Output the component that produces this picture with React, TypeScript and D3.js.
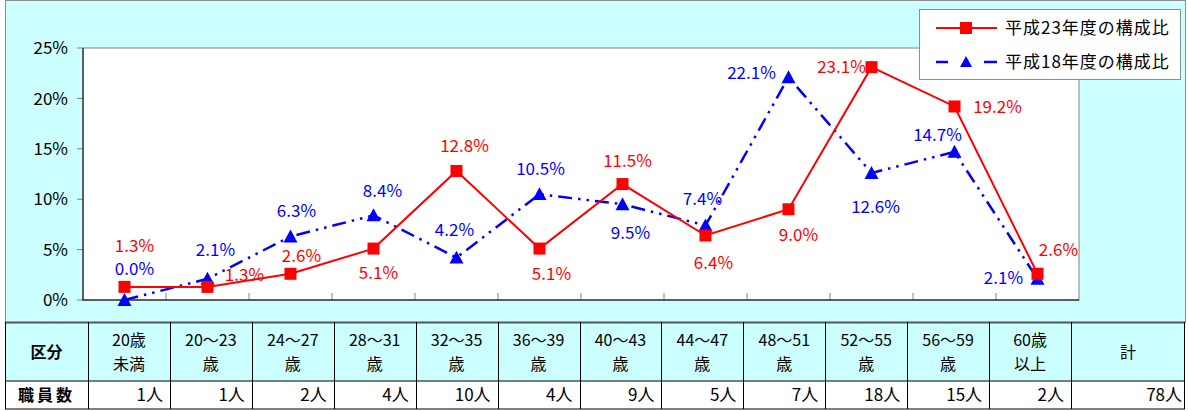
import React from "react";
import * as d3 from "d3";

const categories = ["20歳未満", "20～23歳", "24～27歳", "28～31歳", "32～35歳", "36～39歳", "40～43歳", "44～47歳", "48～51歳", "52～55歳", "56～59歳", "60歳以上"];
const headLine1 = ["20歳", "20～23", "24～27", "28～31", "32～35", "36～39", "40～43", "44～47", "48～51", "52～55", "56～59", "60歳"];
const headLine2 = ["未満", "歳", "歳", "歳", "歳", "歳", "歳", "歳", "歳", "歳", "歳", "以上"];
const h23 = [1.3, 1.3, 2.6, 5.1, 12.8, 5.1, 11.5, 6.4, 9.0, 23.1, 19.2, 2.6];
const h18 = [0.0, 2.1, 6.3, 8.4, 4.2, 10.5, 9.5, 7.4, 22.1, 12.6, 14.7, 2.1];
const staff = [1, 1, 2, 4, 10, 4, 9, 5, 7, 18, 15, 2];
const total = 78;
const yTicks = [0, 5, 10, 15, 20, 25];
const seriesNames = ["平成23年度の構成比", "平成18年度の構成比"];

// label offsets (layout)
const h23LabelOff: [number, number][] = [[10, -41], [37, -12], [11, -18], [5, 24], [8, -25], [12, 25], [5, -23], [8, 27], [10, 26], [-30, 0], [43, 0], [21, -24]];
const h18LabelOff: [number, number][] = [[10, -31], [8, -29], [6, -26], [9, -24], [-2, -28], [1, -25], [8, 29], [-3, -27], [-37, -4], [4, 34], [-17, -17], [-34, -1]];

const W = 1188, H = 411;
const RED = "#FF0000", BLUE = "#0000FF", CYAN = "#CCFFFF";
const FONT = "'Noto Sans CJK JP', 'Noto Sans', sans-serif";

export default function App() {
  const x = d3.scaleBand<string>().domain(categories).range([83, 1079]).paddingInner(0).paddingOuter(0);
  const y = d3.scaleLinear().domain([0, 25]).range([300, 48]);
  const cx = (i: number) => (x(categories[i]) as number) + x.bandwidth() / 2;
  const line = d3.line<number>().x((_, i) => cx(i)).y(d => y(d));

  const colX = d3.scaleLinear().domain([0, 12]).range([88, 1071]);
  const tableLeft = 5, tableRight = 1185, rowTop = 322, rowMid = 381, rowBot = 409;

  const tri = (px: number, py: number, s = 7) => `M${px},${py - s}L${px + s},${py + s * 0.85}L${px - s},${py + s * 0.85}Z`;

  return (
    <svg width={W} height={H} style={{ position: "absolute", left: 0, top: 0, fontFamily: FONT }}>
      <rect x={0} y={0} width={W} height={H} fill="#ffffff" />
      {/* chart area */}
      <rect x={5.5} y={0.5} width={1180} height={322} fill={CYAN} stroke="#8c8c8c" strokeWidth={1} />
      {/* plot area */}
      <rect x={83} y={48} width={996} height={252} fill="#ffffff" stroke="#808080" strokeWidth={1} />
      {/* y ticks */}
      {yTicks.map(t => (
        <g key={t}>
          <line x1={77} x2={83} y1={y(t)} y2={y(t)} stroke="#808080" />
          <text x={68} y={y(t)} dy="0.36em" textAnchor="end" fontSize={17} fill="#000">{t}%</text>
        </g>
      ))}
      {/* x ticks */}
      {categories.slice(1).map((c) => (
        <line key={c} x1={x(c)} x2={x(c)} y1={300} y2={293} stroke="#808080" />
      ))}
      <line x1={83} x2={83} y1={48} y2={300.5} stroke="#000" />
      <line x1={83} x2={1079} y1={300} y2={300} stroke="#000" />

      {/* H18 series */}
      <path d={line(h18) || ""} fill="none" stroke={BLUE} strokeWidth={2.5} strokeDasharray="14,6,2.5,6,2.5,6" />
      {h18.map((v, i) => <path key={i} d={tri(cx(i), y(v))} fill={BLUE} />)}
      {/* H23 series */}
      <path d={line(h23) || ""} fill="none" stroke={RED} strokeWidth={2} />
      {h23.map((v, i) => <rect key={i} x={cx(i) - 6} y={y(v) - 6} width={12} height={12} fill={RED} />)}

      {/* labels */}
      {h18.map((v, i) => (
        <text key={"b" + i} x={cx(i) + h18LabelOff[i][0]} y={y(v) + h18LabelOff[i][1]} dy="0.36em" textAnchor="middle" fontSize={17} fill={BLUE}>{v.toFixed(1)}%</text>
      ))}
      {h23.map((v, i) => (
        <text key={"r" + i} x={cx(i) + h23LabelOff[i][0]} y={y(v) + h23LabelOff[i][1]} dy="0.36em" textAnchor="middle" fontSize={17} fill={RED}>{v.toFixed(1)}%</text>
      ))}

      {/* legend */}
      <rect x={919.5} y={9.5} width={261} height={70} fill="#fff" stroke="#8c8c8c" />
      <line x1={936} x2={997} y1={28} y2={28} stroke={RED} strokeWidth={2} />
      <rect x={960} y={22} width={12} height={12} fill={RED} />
      <text x={1005} y={28} dy="0.36em" fontSize={17} letterSpacing={1} fill="#000">{seriesNames[0]}</text>
      <line x1={936} x2={948} y1={62} y2={62} stroke={BLUE} strokeWidth={2.5} />
      <line x1={984} x2={997} y1={62} y2={62} stroke={BLUE} strokeWidth={2.5} />
      <path d={tri(966, 62, 6)} fill={BLUE} />
      <text x={1005} y={62} dy="0.36em" fontSize={17} letterSpacing={1} fill="#000">{seriesNames[1]}</text>

      {/* table */}
      <rect x={tableLeft} y={rowTop} width={tableRight - tableLeft} height={rowMid - rowTop} fill={CYAN} />
      <rect x={tableLeft} y={rowMid} width={tableRight - tableLeft} height={rowBot - rowMid} fill="#fff" />
      <line x1={tableLeft} x2={tableRight} y1={rowTop + 0.5} y2={rowTop + 0.5} stroke="#555" strokeWidth={2} />
      <line x1={tableLeft} x2={tableRight} y1={rowMid} y2={rowMid} stroke="#000" />
      <line x1={tableLeft} x2={tableRight} y1={rowBot} y2={rowBot} stroke="#000" />
      <line x1={tableLeft + 0.5} x2={tableLeft + 0.5} y1={rowTop} y2={rowBot} stroke="#000" />
      <line x1={tableRight - 0.5} x2={tableRight - 0.5} y1={rowTop} y2={rowBot} stroke="#000" />
      {d3.range(13).map(k => (
        <line key={k} x1={Math.round(colX(k)) + 0.5} x2={Math.round(colX(k)) + 0.5} y1={rowTop} y2={rowBot} stroke="#000" />
      ))}
      <text x={(tableLeft + colX(0)) / 2} y={352} dy="0.36em" textAnchor="middle" fontSize={16} fontWeight="bold" fill="#000">区分</text>
      <text x={(tableLeft + colX(0)) / 2} y={395} dy="0.36em" textAnchor="middle" fontSize={16} fontWeight="bold" letterSpacing={3} fill="#000">職員数</text>
      {headLine1.map((t, i) => (
        <g key={i}>
          <text x={(colX(i) + colX(i + 1)) / 2} y={340} dy="0.36em" textAnchor="middle" fontSize={16} fill="#000">{t}</text>
          <text x={(colX(i) + colX(i + 1)) / 2} y={364} dy="0.36em" textAnchor="middle" fontSize={16} fill="#000">{headLine2[i]}</text>
          <text x={colX(i + 1) - 7} y={395} dy="0.36em" textAnchor="end" fontSize={17} fill="#000">{staff[i]}人</text>
        </g>
      ))}
      <text x={(colX(12) + tableRight) / 2} y={352} dy="0.36em" textAnchor="middle" fontSize={16} fill="#000">計</text>
      <text x={tableRight - 3} y={395} dy="0.36em" textAnchor="end" fontSize={17} fill="#000">{total}人</text>
    </svg>
  );
}
